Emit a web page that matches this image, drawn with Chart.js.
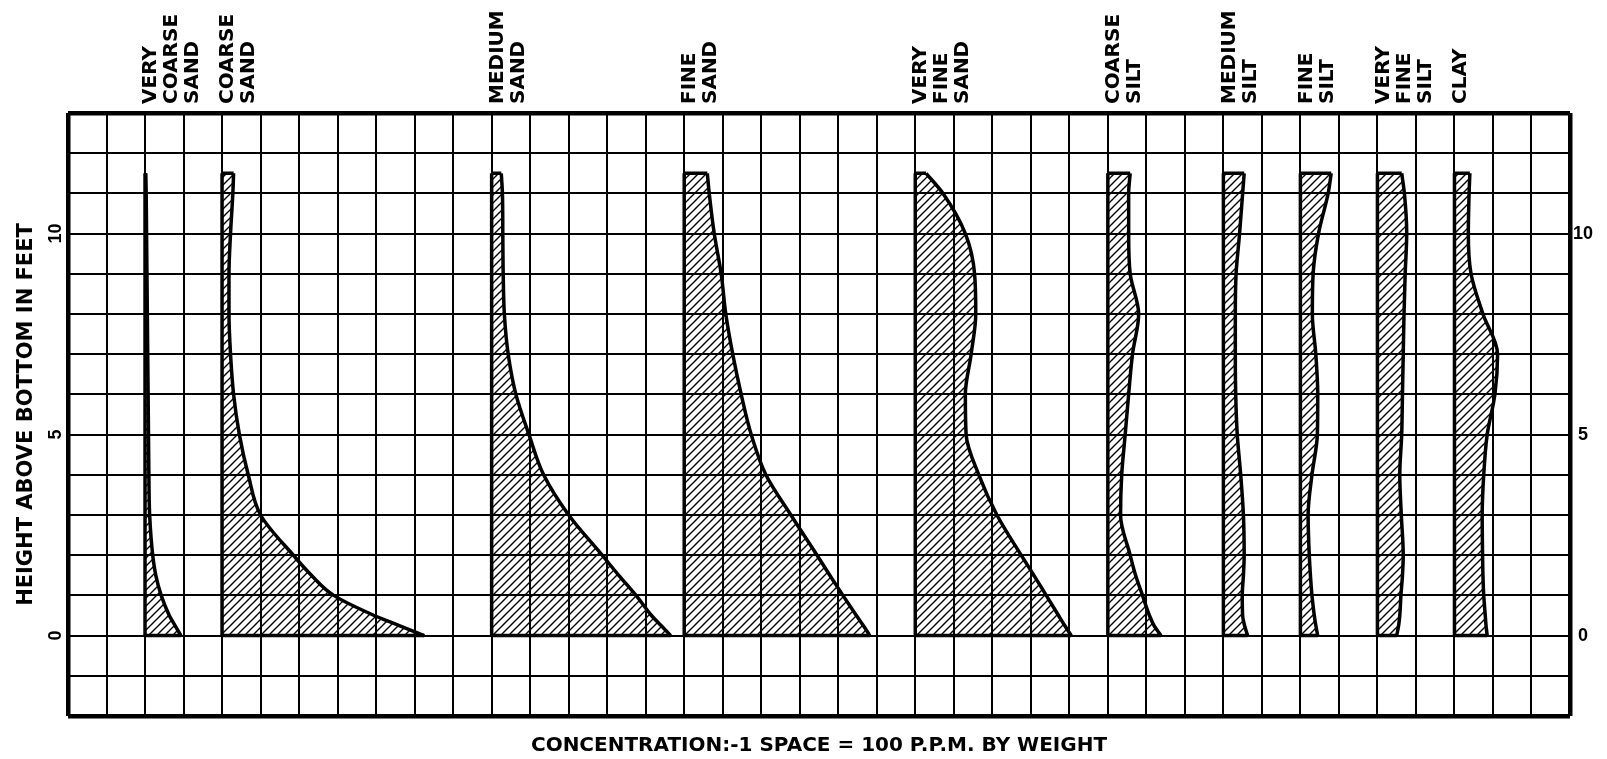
<!DOCTYPE html>
<html>
<head>
<meta charset="utf-8">
<title>Sediment concentration profiles</title>
<script src="https://cdn.jsdelivr.net/npm/chart.js@4.4.0/dist/chart.umd.min.js"></script>
<style>
  html, body { margin: 0; padding: 0; background: #fff; }
  #chart { display: block; }
</style>
</head>
<body>
<canvas id="chart" width="1607" height="759"></canvas>
<script>
// Height above bottom (feet) at which each profile was read
const heights = [0, 0.25, 0.5, 1, 1.5, 2, 3, 4, 5, 6, 7, 8, 9, 10, 11, 11.5];

// Concentration in p.p.m. at each height (1 grid space = 100 p.p.m.)
const veryCoarseSand = [93, 78, 63, 42, 28, 20, 12, 10, 9, 8, 7, 6, 5, 4, 3, 2];
const coarseSand     = [525, 460, 395, 290, 232, 185, 100, 68, 45, 30, 22, 18, 18, 22, 28, 30];
const mediumSand     = [465, 440, 415, 375, 330, 287, 200, 135, 97, 63, 43, 33, 30, 29, 28, 25];
const fineSand       = [482, 465, 447, 412, 378, 345, 277, 212, 174, 148, 126, 108, 96, 78, 65, 60];
const veryFineSand   = [405, 388, 372, 340, 308, 275, 212, 165, 132, 130, 145, 157, 154, 130, 72, 28];
const coarseSilt     = [138, 120, 108, 90, 72, 58, 33, 36, 45, 54, 64, 80, 58, 54, 54, 58];
const mediumSilt     = [63, 55, 50, 49, 52, 54, 52, 45, 36, 32, 31, 31, 33, 42, 50, 54];
const fineSilt       = [45, 40, 36, 30, 26, 23, 20, 30, 44, 45, 40, 31, 33, 47, 72, 80];
const veryFineSilt   = [50, 55, 58, 61, 65, 67, 62, 58, 63, 65, 67, 69, 72, 76, 70, 63];
const clay           = [85, 82, 80, 76, 74, 73, 72, 76, 85, 105, 112, 74, 43, 36, 38, 40];

const fractionNames = [
  ['VERY', 'COARSE', 'SAND'], ['COARSE', 'SAND'], ['MEDIUM', 'SAND'], ['FINE', 'SAND'],
  ['VERY', 'FINE', 'SAND'], ['COARSE', 'SILT'], ['MEDIUM', 'SILT'], ['FINE', 'SILT'],
  ['VERY', 'FINE', 'SILT'], ['CLAY']
];
const fractionValues = [veryCoarseSand, coarseSand, mediumSand, fineSand, veryFineSand,
  coarseSilt, mediumSilt, fineSilt, veryFineSilt, clay];
// grid column where each profile starts
const baseColumns = [2, 4, 11, 16, 22, 27, 30, 32, 34, 36];

const ppmPerSpace = 100;
const xTicks = [0, 39];
const yTicks = [-2, 13];
const yLabelValues = [0, 5, 10];
const xTitle = 'CONCENTRATION:-1 SPACE = 100 P.P.M. BY WEIGHT';
const yTitle = 'HEIGHT ABOVE BOTTOM IN FEET';

const FONT = '"DejaVu Sans", sans-serif';
const canvas = document.getElementById('chart');
const ctx = canvas.getContext('2d');

// diagonal hatching used inside the profiles
function makeHatch() {
  const size = 8;
  const c = document.createElement('canvas');
  c.width = size;
  c.height = size;
  const g = c.getContext('2d');
  g.strokeStyle = '#000';
  g.lineWidth = 1.4;
  g.beginPath();
  g.moveTo(0, size); g.lineTo(size, 0);
  g.moveTo(-size / 2, size / 2); g.lineTo(size / 2, -size / 2);
  g.moveTo(size / 2, size * 1.5); g.lineTo(size * 1.5, size / 2);
  g.stroke();
  return ctx.createPattern(c, 'repeat');
}
const hatch = makeHatch();

const datasets = [];
fractionValues.forEach((values, i) => {
  const b = baseColumns[i];
  const top = heights[heights.length - 1];
  const lineStyle = { borderColor: '#000', borderWidth: 3.5, pointRadius: 0, tension: 0 };
  // the baseline (left edge of the profile)
  datasets.push({
    ...lineStyle,
    indexAxis: 'y',
    data: [{ x: b, y: 0 }, { x: b, y: top }],
    fill: false
  });
  // the concentration curve, filled back to the baseline
  datasets.push({
    ...lineStyle,
    indexAxis: 'y',
    cubicInterpolationMode: 'monotone',
    data: heights.map((h, k) => ({ x: b + values[k] / ppmPerSpace, y: h })),
    fill: '-1',
    backgroundColor: hatch
  });
  // bottom and top closing edges
  datasets.push({
    ...lineStyle,
    data: [
      { x: b, y: 0 }, { x: b + values[0] / ppmPerSpace, y: 0 },
      { x: b, y: NaN },
      { x: b, y: top }, { x: b + values[values.length - 1] / ppmPerSpace, y: top }
    ],
    fill: false
  });
});

// vertical fraction names above the grid
const topLabels = {
  id: 'topLabels',
  afterDraw(chart) {
    const { ctx, chartArea } = chart;
    const x = chart.scales.x;
    ctx.save();
    ctx.font = 'bold 20px ' + FONT;
    ctx.fillStyle = '#000';
    ctx.textAlign = 'left';
    ctx.textBaseline = 'middle';
    fractionNames.forEach((lines, i) => {
      const px = x.getPixelForValue(baseColumns[i]);
      lines.forEach((line, j) => {
        ctx.save();
        ctx.translate(px + 6 + j * 21, chartArea.top - 9);
        ctx.rotate(-Math.PI / 2);
        ctx.fillText(line, 0, 0);
        ctx.restore();
      });
    });
    ctx.restore();
  }
};

const edgeWidth = (vals) => (c) => (c.tick && vals.includes(c.tick.value)) ? 4.5 : 2;

new Chart(ctx, {
  type: 'line',
  data: { datasets },
  options: {
    responsive: false,
    animation: false,
    devicePixelRatio: 1,
    events: [],
    layout: { padding: { top: 113, left: 0, right: 0, bottom: 0 } },
    plugins: { legend: { display: false }, tooltip: { enabled: false } },
    elements: { point: { radius: 0 } },
    scales: {
      x: {
        type: 'linear',
        position: 'bottom',
        min: xTicks[0],
        max: xTicks[1],
        ticks: { stepSize: 1, display: false, maxTicksLimit: 100 },
        grid: { color: '#000', lineWidth: edgeWidth(xTicks), drawTicks: false },
        border: { display: false },
        title: {
          display: true,
          text: xTitle,
          color: '#000',
          font: { family: FONT, size: 20, weight: 'bold' },
          padding: { top: 0, bottom: 1 }
        },
        afterFit: (s) => { s.height = 43; }
      },
      y: {
        type: 'linear',
        position: 'left',
        min: yTicks[0],
        max: yTicks[1],
        ticks: {
          stepSize: 1,
          maxTicksLimit: 100,
          color: '#000',
          font: { family: '"Liberation Sans", sans-serif', size: 18, weight: 'bold' },
          minRotation: 90,
          maxRotation: 90,
          crossAlign: 'center',
          padding: 2,
          callback: (v) => yLabelValues.includes(v) ? String(v) : ''
        },
        grid: { color: '#000', lineWidth: edgeWidth(yTicks), drawTicks: false },
        border: { display: false },
        title: {
          display: true,
          text: yTitle,
          color: '#000',
          font: { family: FONT, size: 21, weight: 'bold' },
          padding: { top: 14, bottom: 0 }
        },
        afterFit: (s) => { s.width = 68; }
      },
      y2: {
        type: 'linear',
        position: 'right',
        min: yTicks[0],
        max: yTicks[1],
        ticks: {
          stepSize: 1,
          maxTicksLimit: 100,
          color: '#000',
          font: { family: '"Liberation Sans", sans-serif', size: 18, weight: 'bold' },
          crossAlign: 'center',
          padding: 3,
          callback: (v) => yLabelValues.includes(v) ? String(v) : ''
        },
        grid: { display: false, drawTicks: false },
        border: { display: false },
        afterFit: (s) => { s.width = 37; }
      }
    }
  },
  plugins: [topLabels]
});
</script>
</body>
</html>
